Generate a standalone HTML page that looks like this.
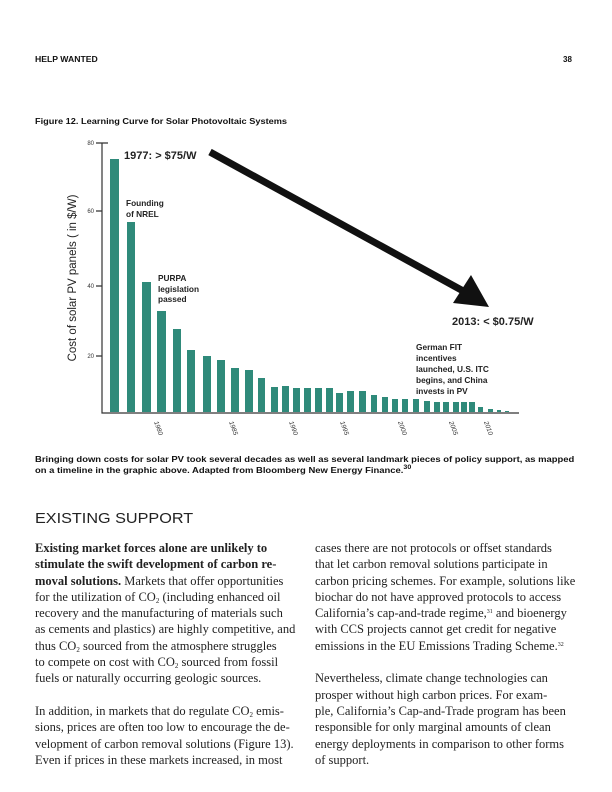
<!DOCTYPE html>
<html><head><meta charset="utf-8"><style>
body{margin:0;background:#fff}
#p{position:relative;width:612px;height:792px;overflow:hidden;font-family:"Liberation Sans",sans-serif;color:#111}
.a{position:absolute;white-space:nowrap}
.s{font-family:"Liberation Sans",sans-serif;font-weight:bold;font-size:8px;transform-origin:0 0}
.b{font-family:"Liberation Serif",serif;font-size:12.5px;line-height:16.3px;color:#222}
sub{font-size:7px;vertical-align:-2px;line-height:0}
sup{font-size:6px;vertical-align:4px;line-height:0}
</style></head><body><div id="p">
<div class="a s" style="left:35px;top:55px;transform:scaleX(1.08)">HELP WANTED</div>
<div class="a s" style="left:563px;top:55px">38</div>
<div class="a s" style="left:35px;top:117px;transform:scaleX(1.15)">Figure 12. Learning Curve for Solar Photovoltaic Systems</div>
<svg class="a" style="left:0;top:0" width="612" height="450">
<g fill="#2f8a7a">
<rect x="110" y="159" width="9" height="253"/><rect x="127" y="222" width="8" height="190"/><rect x="142" y="282" width="9" height="130"/><rect x="157" y="311" width="9" height="101"/><rect x="173" y="329" width="8" height="83"/><rect x="187" y="350" width="8" height="62"/><rect x="203" y="356" width="8" height="56"/><rect x="217" y="360" width="8" height="52"/><rect x="231" y="368" width="8" height="44"/><rect x="245" y="370" width="8" height="42"/><rect x="258" y="378" width="7" height="34"/><rect x="271" y="387" width="7" height="25"/><rect x="282" y="386" width="7" height="26"/><rect x="293" y="388" width="7" height="24"/><rect x="304" y="388" width="7" height="24"/><rect x="315" y="388" width="7" height="24"/><rect x="326" y="388" width="7" height="24"/><rect x="336" y="393" width="7" height="19"/><rect x="347" y="391" width="7" height="21"/><rect x="359" y="391" width="7" height="21"/><rect x="371" y="395" width="6" height="17"/><rect x="382" y="397" width="6" height="15"/><rect x="392" y="399" width="6" height="13"/><rect x="402" y="399" width="6" height="13"/><rect x="413" y="399" width="6" height="13"/><rect x="424" y="401" width="6" height="11"/><rect x="434" y="402" width="6" height="10"/><rect x="443" y="402" width="6" height="10"/><rect x="453" y="402" width="6" height="10"/><rect x="461" y="402" width="6" height="10"/><rect x="469" y="402" width="6" height="10"/><rect x="478" y="407" width="5" height="5"/><rect x="488" y="409" width="5" height="3"/><rect x="497" y="410" width="4" height="2"/><rect x="505" y="411" width="4" height="1"/>
</g>
<g stroke="#333" stroke-width="1.2" fill="none">
<path d="M102 143V413H519"/><path d="M96 143H108M96 211H102M96 286H102M96 356H102"/>
</g>
<g font-size="6" fill="#333" font-family="Liberation Sans">
<text x="94" y="145" text-anchor="end">80</text><text x="94" y="213" text-anchor="end">60</text><text x="94" y="288" text-anchor="end">40</text><text x="94" y="358" text-anchor="end">20</text>
</g>
<g font-size="6.5" fill="#333" font-family="Liberation Sans" font-style="italic">
<text transform="translate(154,422) rotate(70)">1980</text><text transform="translate(229,422) rotate(70)">1985</text><text transform="translate(289,422) rotate(70)">1990</text><text transform="translate(340,422) rotate(70)">1995</text><text transform="translate(398,422) rotate(70)">2000</text><text transform="translate(449,422) rotate(70)">2005</text><text transform="translate(484,422) rotate(70)">2010</text>
</g>
<text transform="translate(76,278) rotate(-90)" text-anchor="middle" font-size="11.5" fill="#222" font-family="Liberation Sans">Cost of solar PV panels ( in $/W)</text>
<line x1="210" y1="152" x2="465" y2="292" stroke="#111" stroke-width="7"/>
<polygon points="489,307 453,303 471,275" fill="#111"/>
<text x="124" y="159" font-size="11" font-weight="bold" fill="#222" font-family="Liberation Sans">1977: &gt; $75/W</text>
<text x="452" y="325" font-size="11" font-weight="bold" fill="#222" font-family="Liberation Sans">2013: &lt; $0.75/W</text>
<g font-size="8.3" font-weight="bold" fill="#222" font-family="Liberation Sans">
<text x="126" y="206">Founding</text><text x="126" y="217">of NREL</text>
<text x="158" y="281">PURPA</text><text x="158" y="292">legislation</text><text x="158" y="302">passed</text>
<text x="416" y="350">German FIT</text><text x="416" y="361">incentives</text><text x="416" y="372">launched, U.S. ITC</text><text x="416" y="383">begins, and China</text><text x="416" y="394">invests in PV</text>
</g>
</svg>
<div class="a s" style="left:35px;top:454px;line-height:11px;transform:scaleX(1.18)">Bringing down costs for solar PV took several decades as well as several landmark pieces of policy support, as mapped<br>on a timeline in the graphic above. Adapted from Bloomberg New Energy Finance.<sup>30</sup></div>
<div class="a" style="left:35px;top:510px;font-size:15px;color:#222;transform:scaleX(1.08);transform-origin:0 0">EXISTING SUPPORT</div>
<div class="a b" style="left:35px;top:540px"><b>Existing market forces alone are unlikely to</b><br><b>stimulate the swift development of carbon re-</b><br><b>moval solutions.</b> Markets that offer opportunities<br>for the utilization of CO<sub>2</sub> (including enhanced oil<br>recovery and the manufacturing of materials such<br>as cements and plastics) are highly competitive, and<br>thus CO<sub>2</sub> sourced from the atmosphere struggles<br>to compete on cost with CO<sub>2</sub> sourced from fossil<br>fuels or naturally occurring geologic sources.<br><br>In addition, in markets that do regulate CO<sub>2</sub> emis-<br>sions, prices are often too low to encourage the de-<br>velopment of carbon removal solutions (Figure 13).<br>Even if prices in these markets increased, in most</div>
<div class="a b" style="left:315px;top:540px">cases there are not protocols or offset standards<br>that let carbon removal solutions participate in<br>carbon pricing schemes. For example, solutions like<br>biochar do not have approved protocols to access<br>California’s cap-and-trade regime,<sup>31</sup> and bioenergy<br>with CCS projects cannot get credit for negative<br>emissions in the EU Emissions Trading Scheme.<sup>32</sup><br><br>Nevertheless, climate change technologies can<br>prosper without high carbon prices. For exam-<br>ple, California’s Cap-and-Trade program has been<br>responsible for only marginal amounts of clean<br>energy deployments in comparison to other forms<br>of support.</div>
</div></body></html>
